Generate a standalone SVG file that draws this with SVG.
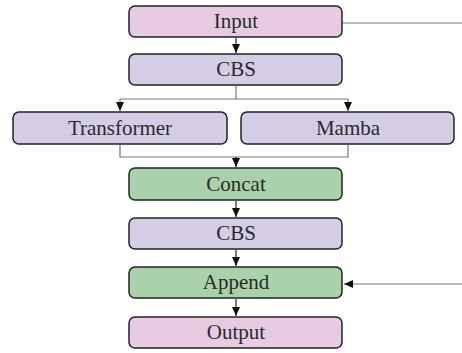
<svg xmlns="http://www.w3.org/2000/svg" width="462" height="353" viewBox="0 0 462 353">
  <style>
    .box { stroke: #222; stroke-width: 1.5; }
    .io { fill: #e6cbe3; }
    .cbs { fill: #d5cce6; }
    .op { fill: #a9d2aa; }
    .lbl { font-family: "Liberation Serif", "Times New Roman", serif; font-size: 21px; fill: #2a2a2a; text-anchor: middle; dominant-baseline: central; }
    .wire { fill: none; stroke: #222; stroke-width: 1.2; }
    .tap { fill: none; stroke: #777; stroke-width: 1.2; }
  </style>
  <defs>
    <marker id="arrow" markerWidth="10" markerHeight="10" refX="9" refY="5" orient="auto" markerUnits="userSpaceOnUse">
      <path d="M0,1 L9,5 L0,9 Z" fill="#111"/>
    </marker>
  </defs>
  <rect width="462" height="353" fill="#fff"/>

  <g id="connectors">
    <line class="wire" x1="236" y1="38" x2="236" y2="53" marker-end="url(#arrow)"/>
    <path class="tap" d="M236,86 V99 M120,99 H348"/>
    <line class="tap" x1="120" y1="99" x2="120" y2="111" marker-end="url(#arrow)"/>
    <line class="tap" x1="348" y1="99" x2="348" y2="111" marker-end="url(#arrow)"/>
    <path class="tap" d="M120,145 V157 H348 V145"/>
    <line class="wire" x1="236" y1="157" x2="236" y2="167" marker-end="url(#arrow)"/>
    <line class="wire" x1="236" y1="201" x2="236" y2="217" marker-end="url(#arrow)"/>
    <line class="wire" x1="236" y1="250" x2="236" y2="266" marker-end="url(#arrow)"/>
    <line class="wire" x1="236" y1="299" x2="236" y2="316" marker-end="url(#arrow)"/>
    <line class="tap" x1="342" y1="23" x2="462" y2="23"/>
    <line class="tap" x1="462" y1="284" x2="344" y2="284" marker-end="url(#arrow)"/>
  </g>

  <g id="input">
    <rect class="box io" x="129" y="6" width="213" height="31" rx="6"/>
    <text class="lbl" x="236" y="21">Input</text>
  </g>
  <g id="cbs1">
    <rect class="box cbs" x="129" y="54" width="213" height="31" rx="6"/>
    <text class="lbl" x="236" y="69">CBS</text>
  </g>
  <g id="transformer">
    <rect class="box cbs" x="13" y="112" width="214" height="32" rx="6"/>
    <text class="lbl" x="120" y="127.5">Transformer</text>
  </g>
  <g id="mamba">
    <rect class="box cbs" x="241" y="112" width="213" height="32" rx="6"/>
    <text class="lbl" x="348" y="127.5">Mamba</text>
  </g>
  <g id="concat">
    <rect class="box op" x="129" y="168" width="213" height="32" rx="6"/>
    <text class="lbl" x="236" y="183.5">Concat</text>
  </g>
  <g id="cbs2">
    <rect class="box cbs" x="129" y="218" width="213" height="31" rx="6"/>
    <text class="lbl" x="236" y="233">CBS</text>
  </g>
  <g id="append">
    <rect class="box op" x="129" y="267" width="213" height="31" rx="6"/>
    <text class="lbl" x="236" y="282">Append</text>
  </g>
  <g id="output">
    <rect class="box io" x="129" y="317" width="213" height="31" rx="6"/>
    <text class="lbl" x="236" y="332">Output</text>
  </g>
</svg>
